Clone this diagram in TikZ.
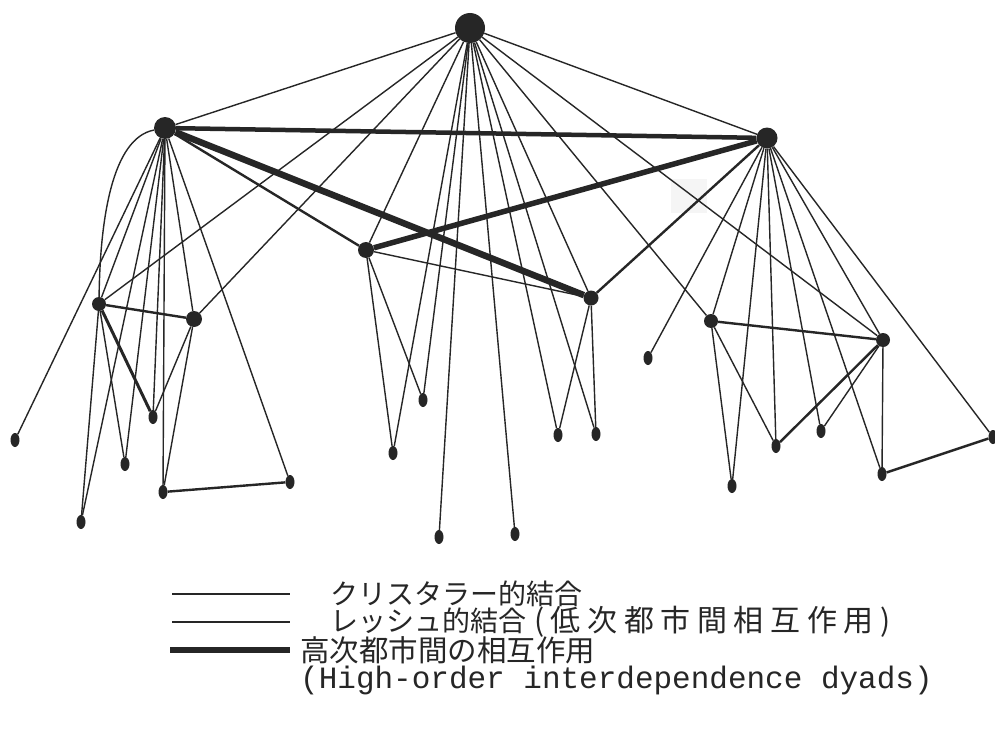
\documentclass[tikz,border=0pt]{standalone}
\usepackage{xcolor}
\usepackage{fontspec}
\usepackage{tikz}
\usetikzlibrary{shapes}
\newfontfamily\jpfont{Noto Sans CJK JP}
\setmonofont{Liberation Mono}
\definecolor{ink}{HTML}{262626}

\begin{document}
\begin{tikzpicture}[x=1pt,y=-1pt,
    city/.style={circle,fill=ink,inner sep=0pt,minimum size=#1},
    town/.style={ellipse,fill=ink,inner sep=0pt,minimum width=9pt,minimum height=14pt},
    christaller/.style={draw=ink,line width=1.4pt},
    loesch/.style={draw=ink,line width=2.4pt},
    highorder/.style={draw=ink,line width=5.5pt},
    legend/.style={anchor=west,text=ink,inner sep=0pt}]
    \useasboundingbox[fill=white] (0,0) rectangle (995,752);
    \fill[black!4] (671,179) rectangle (707,213);

    % centres
    \node[city=30pt] (top) at (470,28) {};
    \node[city=22pt] (west) at (165,128) {};
    \node[city=21pt] (east) at (767,138) {};
    \node[city=16pt] (mid1) at (366,250) {};
    \node[city=15pt] (mid2) at (591,298) {};
    \node[city=14pt] (wa) at (99,304) {};
    \node[city=16pt] (wb) at (194,319) {};
    \node[city=14pt] (ea) at (711,321) {};
    \node[city=14pt] (eb) at (883,340) {};

    % small towns
    \node[town] (w1) at (153,417) {};
    \node[town] (w2) at (15,440) {};
    \node[town] (w3) at (125,464) {};
    \node[town] (w4) at (81,522) {};
    \node[town] (w5) at (163,492) {};
    \node[town] (w6) at (290,482) {};
    \node[town] (m1) at (423,400) {};
    \node[town] (m2) at (393,453) {};
    \node[town] (m3) at (439,537) {};
    \node[town] (m4) at (515,534) {};
    \node[town] (m5) at (558,435) {};
    \node[town] (m6) at (596,434) {};
    \node[town] (m7) at (648,358) {};
    \node[town] (e1) at (732,486) {};
    \node[town] (e2) at (776,446) {};
    \node[town] (e3) at (821,431) {};
    \node[town] (e4) at (882,474) {};
    \node[town] (e5) at (993,437) {};

    % christaller links
    \foreach \t in {west,wa,wb,mid1,m1,m2,m3,m4,m5,m6,mid2,ea,eb,east}
        \draw[christaller] (top) -- (\t);
    \foreach \t in {w1,w2,w3,w4,w5,w6,wa,wb}
        \draw[christaller] (west) -- (\t);
    \draw[christaller] (west) .. controls (112,138) and (100,220) .. (wa);
    \foreach \t in {w3,w4} \draw[christaller] (wa) -- (\t);
    \foreach \t in {w1,w5} \draw[christaller] (wb) -- (\t);
    \foreach \t in {m1,m2,mid2} \draw[christaller] (mid1) -- (\t);
    \foreach \t in {m5,m6} \draw[christaller] (mid2) -- (\t);
    \foreach \t in {m7,ea,e1,e2,e3,e4,eb,e5}
        \draw[christaller] (east) -- (\t);
    \foreach \t in {e1,e2} \draw[christaller] (ea) -- (\t);
    \foreach \t in {e3,e4} \draw[christaller] (eb) -- (\t);

    % loesch links
    \draw[loesch] (west) -- (mid1);
    \draw[loesch] (mid2) -- (east);
    \draw[loesch] (wa) -- (wb);
    \draw[loesch,line width=3pt] (wa) -- (w1);
    \draw[loesch] (w5) -- (w6);
    \draw[loesch] (ea) -- (eb);
    \draw[loesch] (eb) -- (e2);
    \draw[loesch] (e4) -- (e5);

    % high-order dyads
    \draw[highorder,line width=4.5pt] (west) -- (east);
    \draw[highorder,line width=6.5pt] (west) -- (mid2);
    \draw[highorder] (mid1) -- (east);

    % key
    \coordinate (k1a) at (172,594); \coordinate (k1b) at (290,594);
    \coordinate (k2a) at (172,622); \coordinate (k2b) at (290,622);
    \coordinate (k3a) at (170,650); \coordinate (k3b) at (290,650);
    \draw[christaller] (k1a) -- (k1b);
    \draw[loesch] (k2a) -- (k2b);
    \draw[highorder,line width=6pt] (k3a) -- (k3b);
    \node[legend] (t1) at (330,594) {\jpfont\fontsize{28}{32}\selectfont クリスタラー的結合};
    \node[legend] (t2) at (330,622) {\jpfont\fontsize{28}{32}\selectfont レッシュ的結合\kern8pt{\fontsize{30}{32}\selectfont\addfontfeature{LetterSpace=22}(低次都市間相互作用)}};
    \node[legend] (t3) at (300,650) {\jpfont\fontsize{29.5}{32}\selectfont 高次都市間の相互作用};
    \node[legend] (t4) at (300,680) {\ttfamily\fontsize{31}{34}\selectfont (High-order interdependence dyads)};
\end{tikzpicture}
\end{document}
